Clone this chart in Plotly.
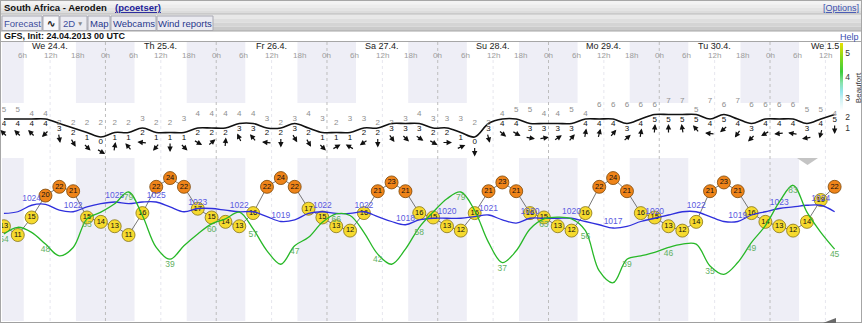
import math
import plotly.graph_objects as go

# ---------------- data ----------------
# forecast steps, local time (UTC+2), hours after We 24.4. 00:00
hours = [2, 5, 8, 11, 14, 17, 20, 23, 26, 29, 32, 35, 38, 41, 44, 47, 50, 53, 56, 59,
         62, 65, 68, 71, 74, 77, 80, 83, 86, 89, 92, 95, 98, 101, 104, 107, 110, 113,
         116, 119, 122, 125, 128, 131, 134, 137, 140, 143, 146, 149, 152, 155, 158,
         161, 164, 167, 170, 173, 176, 179, 182]

day_labels = ["We 24.4.", "Th 25.4.", "Fr 26.4.", "Sa 27.4.", "Su 28.4.",
              "Mo 29.4.", "Tu 30.4.", "We 1.5"]
hour_labels = ["0h", "6h", "12h", "18h"]

temperature = [13, 11, 15, 20, 22, 21, 15, 14, 13, 11, 16, 22, 24, 22, 17, 15, 14, 13, 16, 22, 24, 22,
               17, 15, 13, 12, 16, 21, 23, 21, 16, 15, 13, 12, 16, 21, 23, 21, 16, 15, 13, 12, 16,
               22, 24, 21, 16, 15, 13, 12, 14, 21, 23, 21, 16, 14, 13, 12, 14, 19, 22]

wind_bft = [4, 4, 4, 4, 3, 2, 1, 0, 1, 1, 2, 1, 1, 1, 2, 2, 2, 3, 3, 2, 2, 3,
            2, 1, 1, 1, 2, 2, 3, 3, 3, 2, 2, 1, 0, 3, 4, 4, 3, 3, 3, 3, 4,
            4, 4, 3, 4, 5, 5, 5, 5, 4, 5, 4, 3, 4, 4, 4, 3, 4, 5]

gusts = [5, 5, 4, 4, 2, 2, 2, 2, 2, 2, 3, 2, 2, 3, 4, 4, 4, 4, 4, 3, 2, 3,
         4, 3, 2, 3, 3, 2, 2, 3, 4, 3, 3, 3, 2, 2, 4, 5, 5, 4, 4, 5, 4,
         6, 6, 6, 6, 6, 7, 7, 5, 7, 6, 7, 6, 6, 6, 6, 5, 5, 4]

# direction the wind arrow points to (compass degrees)
arrow_heading = [315, 315, 315, 225, 170, 150, 135, 120, 10, 320, 275, 220, 180, 135, 120, 50, 5, 335, 320, 275, 180, 150,
                 150, 135, 60, 300, 235, 180, 145, 135, 125, 120, 90, 65, 180, 165, 130, 120, 100, 80, 55, 40, 10,
                 15, 40, 50, 10, 5, 0, 350, 320, 275, 230, 215, 225, 240, 265, 280, 260, 195, 180]

pressure = [1021.5, 1022, 1024, 1024.3, 1022.5, 1022, 1023.5, 1024.5, 1025, 1024.5, 1025, 1025,
            1023.5, 1022, 1023, 1023, 1022.5, 1022, 1022, 1020.5, 1019, 1019.5, 1021.5, 1022,
            1021.5, 1021.5, 1022, 1020.5, 1019, 1018, 1019.5, 1020, 1020, 1020, 1020.5, 1021,
            1019.5, 1018.5, 1020, 1020, 1020, 1020, 1019, 1018, 1017, 1017.5, 1019, 1020,
            1021, 1022, 1022, 1020.5, 1019, 1019, 1021, 1022, 1023, 1023.5, 1024, 1024, 1022]

humidity = [54, 58, 55, 48, 41, 46, 63, 67, 72, 79, 65, 46, 39, 47, 54, 60, 63, 67, 57, 44, 36, 47,
            52, 61, 66, 65, 55, 42, 36, 45, 58, 67, 75, 79, 68, 49, 37, 44, 57, 63, 64, 63, 56,
            32, 25, 39, 41, 43, 46, 48, 48, 35, 30, 37, 49, 59, 73, 83, 67, 55, 45]

beaufort_ticks = ["1", "2", "3", "4", "5"]

# ---------------- geometry / style ----------------
W, H = 864, 328
ML, MR = 2, 18
PW = W - ML - MR
FONT = "Liberation Sans, Arial, sans-serif"

def px_x(px):
    return (px - ML) / PW

def px_y(py):
    return 1 - py / H

X0_PX, PX_PER_H = -5.3, 4.615
x_range = [(ML - X0_PX) / PX_PER_H, (W - MR - X0_PX) / PX_PER_H]

def axis_range(val, at_px, ppu):
    return [val + (at_px - H) / ppu, val + at_px / ppu]

WIND_PPU, TEMP_PPU, PRES_PPU, HUM_PPU = 4.5, 4.38, 3.25, 1.68
wind_range = axis_range(0, 137, WIND_PPU)
temp_range = axis_range(11, 235, TEMP_PPU)
pres_range = axis_range(1025, 202, PRES_PPU)
hum_range = axis_range(79, 192, HUM_PPU)

fig = go.Figure()

# humidity line + labels
fig.add_trace(go.Scatter(x=hours, y=humidity, yaxis="y4", mode="lines",
                         line=dict(color="#27b827", width=1.3, shape="spline", smoothing=1.0),
                         hoverinfo="skip"))
hum_idx = [i for i in range(len(hours)) if i % 3 == 0]
fig.add_trace(go.Scatter(x=[hours[i] for i in hum_idx],
                         y=[humidity[i] - 6 / HUM_PPU for i in hum_idx],
                         text=[str(humidity[i]) for i in hum_idx], yaxis="y4", mode="text",
                         textfont=dict(family=FONT, size=8.5, color="#62b062"), hoverinfo="skip"))

# pressure line + labels
fig.add_trace(go.Scatter(x=hours, y=pressure, yaxis="y3", mode="lines",
                         line=dict(color="#2f2fdc", width=1.3, shape="spline", smoothing=1.0),
                         hoverinfo="skip"))
pres_idx = [i for i in range(len(hours)) if i % 3 == 2]
fig.add_trace(go.Scatter(x=[hours[i] for i in pres_idx],
                         y=[pressure[i] + 6 / PRES_PPU for i in pres_idx],
                         text=[str(int(round(pressure[i]))) for i in pres_idx], yaxis="y3", mode="text",
                         textfont=dict(family=FONT, size=8.5, color="#5a5ae0"), hoverinfo="skip"))

# temperature circles
t_fill = ["#ef8419" if t >= 20 else "#f6da2e" for t in temperature]
t_edge = ["#7a4608" if t >= 20 else "#857318" for t in temperature]
fig.add_trace(go.Scatter(x=hours, y=temperature, yaxis="y2", mode="lines+markers+text",
                         text=[str(t) for t in temperature], textposition="middle center",
                         textfont=dict(family=FONT, size=7.5, color="#111"),
                         line=dict(color="#555", width=0.8),
                         marker=dict(size=13, color=t_fill, line=dict(color=t_edge, width=0.8)),
                         hoverinfo="skip"))

# wind line, numbers, gusts
fig.add_trace(go.Scatter(x=hours, y=wind_bft, yaxis="y", mode="lines",
                         line=dict(color="#111", width=1.6, shape="spline", smoothing=1.0),
                         hoverinfo="skip"))
fig.add_trace(go.Scatter(x=hours, y=[v - 5 / WIND_PPU for v in wind_bft],
                         text=[str(v) for v in wind_bft], yaxis="y", mode="text",
                         textfont=dict(family=FONT, size=8, color="#111"), hoverinfo="skip"))
fig.add_trace(go.Scatter(x=hours, y=[g + 5 / WIND_PPU for g in gusts],
                         text=[str(g) for g in gusts], yaxis="y", mode="text",
                         textfont=dict(family=FONT, size=8, color="#8e8e8e"), hoverinfo="skip"))

# Beaufort colour bar (dummy trace)
c_of_px = lambda py: (137 - py) / WIND_PPU
cmin, cmax = c_of_px(133), c_of_px(43)
bft_tick_px = [128, 117, 98, 77, 53]
fig.add_trace(go.Scatter(
    x=[x_range[0] - 50], y=[0], yaxis="y", mode="markers", hoverinfo="skip",
    marker=dict(size=2, opacity=0, color=[cmin], cmin=cmin, cmax=cmax, showscale=True,
                colorscale=[[0.0, "#ffffff"], [0.25, "#ffffff"], [0.36, "#d6f3f5"],
                            [0.46, "#98e6ee"], [0.56, "#86e2a8"], [0.68, "#3ccd3c"],
                            [0.84, "#86d81c"], [1.0, "#e8e000"]],
                colorbar=dict(x=px_x(839.5), xanchor="left", y=px_y(88), yanchor="middle",
                              len=90 / H, lenmode="fraction", thickness=3, thicknessmode="pixels",
                              xpad=0, ypad=0, outlinewidth=0, ticks="",
                              tickvals=[c_of_px(p) for p in bft_tick_px], ticktext=beaufort_ticks,
                              tickfont=dict(family=FONT, size=8.5, color="#333"),
                              title=dict(text="Beaufort", side="right",
                                         font=dict(family=FONT, size=8, color="#333"))))))

# ---------------- shapes ----------------
shapes = []
SUNRISE, SUNSET = 6.3, 17.6
for d in range(-1, 8):
    a = max(24 * d + SUNSET, x_range[0])
    b = min(24 * (d + 1) + SUNRISE, x_range[1])
    if b <= a:
        continue
    for (top, bot) in [(42, 103), (158, 321)]:
        shapes.append(dict(type="rect", xref="x", yref="paper", x0=a, x1=b,
                           y0=px_y(bot), y1=px_y(top), fillcolor="#eeeef6",
                           line=dict(width=0), layer="below"))
for d in range(1, 8):
    shapes.append(dict(type="line", xref="x", yref="paper", x0=24 * d, x1=24 * d,
                       y0=px_y(321), y1=px_y(42), line=dict(color="#bdbdbd", width=1, dash="dot"),
                       layer="below"))
for d in range(0, 8):
    shapes.append(dict(type="line", xref="x", yref="paper", x0=24 * d + 12, x1=24 * d + 12,
                       y0=px_y(321), y1=px_y(42), line=dict(color="#e6e6ee", width=1, dash="dot"),
                       layer="below"))

def prect(x0, y0, x1, y1, fill, line=None, lw=1):
    return dict(type="rect", xref="paper", yref="paper", x0=px_x(x0), x1=px_x(x1),
                y0=px_y(y1), y1=px_y(y0), fillcolor=fill,
                line=dict(color=line or fill, width=lw if line else 0), layer="below")

def pline(x0, y0, x1, y1, color, w=1):
    return dict(type="line", xref="paper", yref="paper", x0=px_x(x0), x1=px_x(x1),
                y0=px_y(y0), y1=px_y(y1), line=dict(color=color, width=w))

# title bar gradient
for k, col in enumerate(["#f3f3f3", "#ececec", "#e4e4e4", "#dcdcdc"]):
    shapes.append(prect(0, 1 + k * 3.3, 862, 1 + (k + 1) * 3.3, col))
# tab row gradient
for k, col in enumerate(["#e8e8e8", "#dedede", "#d4d4d4", "#cacaca"]):
    shapes.append(prect(0, 14.2 + k * 4.2, 862, 14.2 + (k + 1) * 4.2, col))
tabs = [(2, 42, "Forecast"), (43, 59, "\u223f"), (60, 87, "2D"), (88, 110, "Map"),
        (111, 156, "Webcams"), (157, 213, "Wind reports")]
for x0, x1, _ in tabs:
    shapes.append(prect(x0, 16, x1, 30.5, "#ebebf1", "#a9a9b3", 1))
shapes.append(prect(43, 16, 59, 30.5, "#f7f7fa", "#a9a9b3", 1))
shapes.append(pline(0, 14, 862, 14, "#b9b9b9"))
shapes.append(pline(0, 31, 862, 31, "#a6a6a6"))
shapes.append(pline(0, 41.5, 862, 41.5, "#a6a6a6"))
shapes.append(pline(0, 322.5, 862, 322.5, "#a0a0a0"))
shapes.append(pline(0.5, 0.5, 0.5, 322.5, "#a6a6a6"))
shapes.append(pline(861.5, 0.5, 861.5, 322.5, "#a6a6a6"))
shapes.append(pline(0, 0.5, 862, 0.5, "#a6a6a6"))
# collapse triangle and resize grip
shapes.append(dict(type="path", xref="paper", yref="paper",
                   path=f"M {px_x(797)} {px_y(158)} L {px_x(818)} {px_y(158)} L {px_x(807.5)} {px_y(165)} Z",
                   fillcolor="#c4c4c4", line=dict(width=0)))
shapes.append(dict(type="path", xref="paper", yref="paper",
                   path=f"M {px_x(823)} {px_y(323)} L {px_x(836)} {px_y(323)} L {px_x(836)} {px_y(318)} Z",
                   fillcolor="#6a6a6a", line=dict(width=0)))

# ---------------- annotations ----------------
ann = []

def ptext(x, y, text, size=9, color="#111", anchor="left", bold=False):
    if bold:
        text = "<b>" + text + "</b>"
    ann.append(dict(xref="paper", yref="paper", x=px_x(x), y=px_y(y), text=text, showarrow=False,
                    xanchor=anchor, yanchor="middle", font=dict(family=FONT, size=size, color=color),
                    borderpad=0))

ptext(3, 7.5, "South Africa - Aeroden", 9.5, "#111", bold=True)
ptext(114, 7.5, "<u>(pcoetser)</u>", 9.5, "#23239a", bold=True)
ptext(860, 8, "<u>[Options]</u>", 9, "#3a4fb0", anchor="right")
tab_colors = {"Forecast": "#3d4d9c", "\u223f": "#222", "2D": "#3d4d9c", "Map": "#27378c",
              "Webcams": "#27378c", "Wind reports": "#27378c"}
for x0, x1, lab in tabs:
    if lab == "2D":
        ptext(x0 + 2, 23.5, "2D", 9.5, tab_colors[lab])
        ptext(x0 + 16, 23.5, "\u25bc", 6.5, "#888")
    else:
        ptext((x0 + x1) / 2, 23.5, lab, 10 if lab == "\u223f" else 9.5, tab_colors[lab],
              anchor="center", bold=(lab == "\u223f"))
ptext(3, 36, "GFS, Init: 24.04.2013 00 UTC", 9, "#111", bold=True)
ptext(860, 36.5, "Help", 9, "#3a4fb0", anchor="right")

for d, lab in enumerate(day_labels):
    ann.append(dict(xref="x", yref="paper", x=24 * d + 12, y=px_y(46), text=lab, showarrow=False,
                    xanchor="center", yanchor="middle", font=dict(family=FONT, size=9, color="#222")))
for d in range(8):
    for k, lab in enumerate(hour_labels):
        hh = 24 * d + 6 * k
        if hh < 4 or hh > 181:
            continue
        ann.append(dict(xref="x", yref="paper", x=hh, y=px_y(55.5), text=lab, showarrow=False,
                        xanchor="center", yanchor="middle",
                        font=dict(family=FONT, size=8, color="#9c9c9c")))

L = 10
for h, v, hd in zip(hours, wind_bft, arrow_heading):
    th = math.radians(hd)
    s, c = math.sin(th), math.cos(th)
    ann.append(dict(xref="x", yref="y", x=h, y=v, text="", showarrow=True,
                    arrowhead=2, arrowsize=0.9, arrowwidth=1.2, arrowcolor="#111",
                    ax=-L * s, ay=L * c, xshift=(L / 2) * s, yshift=-(14.5 - (L / 2) * c),
                    standoff=0, startstandoff=0))

fig.update_layout(
    width=W, height=H, margin=dict(l=ML, r=MR, t=0, b=0),
    paper_bgcolor="white", plot_bgcolor="rgba(0,0,0,0)", showlegend=False,
    xaxis=dict(range=x_range, visible=False, fixedrange=True),
    yaxis=dict(range=wind_range, visible=False, domain=[0, 1]),
    yaxis2=dict(range=temp_range, visible=False, overlaying="y"),
    yaxis3=dict(range=pres_range, visible=False, overlaying="y"),
    yaxis4=dict(range=hum_range, visible=False, overlaying="y"),
    shapes=shapes, annotations=ann,
)

fig.write_html("out.html")
